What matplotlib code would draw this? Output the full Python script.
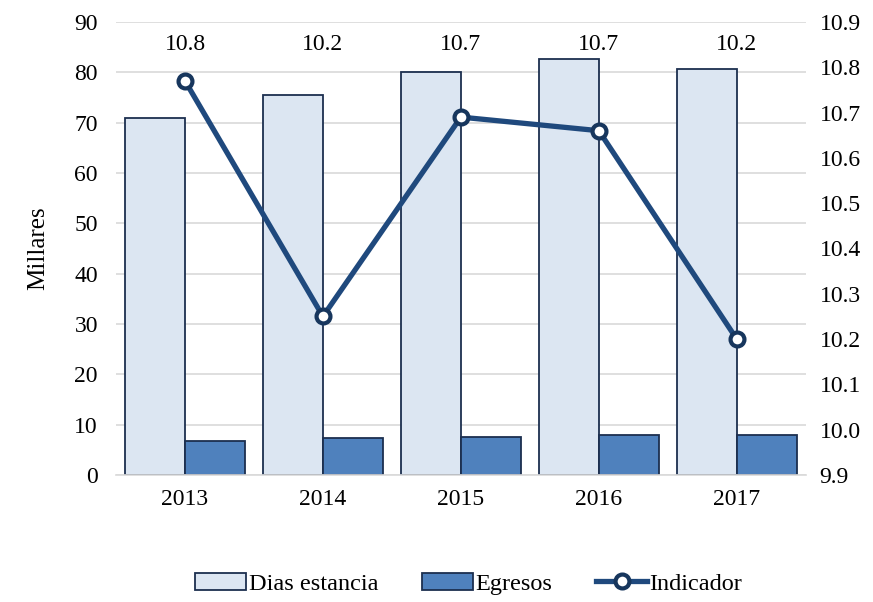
import matplotlib.pyplot as plt
import numpy as np

# data
years = ['2013', '2014', '2015', '2016', '2017']
dias_estancia = [70.9, 75.4, 80.0, 82.7, 80.6]
egresos = [6.7, 7.4, 7.6, 7.9, 8.0]
indicador = [10.77, 10.25, 10.69, 10.66, 10.20]
indicador_labels = ['10.8', '10.2', '10.7', '10.7', '10.2']

plt.rcParams['font.family'] = ['Liberation Serif', 'DejaVu Serif']

fig = plt.figure(figsize=(8.73, 6.02), dpi=100)
ax = fig.add_axes([0.1329, 0.211, 0.790, 0.7525])
ax2 = ax.twinx()

x = np.arange(len(years))
w = 0.435
edge = '#1c2f4f'
ax.bar(x - w/2, dias_estancia, w, color='#dce6f2', edgecolor=edge, linewidth=1.3,
       label='Dias estancia', zorder=2)
ax.bar(x + w/2, egresos, w, color='#4f81bd', edgecolor=edge, linewidth=1.3,
       label='Egresos', zorder=2)

ax.set_ylim(0, 90)
ax.set_yticks(range(0, 91, 10))
ax.set_xlim(-0.5, len(years) - 0.5)
ax.set_xticks(x)
ax.set_xticklabels(years)
ax.yaxis.grid(True, color='#d9d9d9', linewidth=1.2, zorder=0)
ax.set_axisbelow(True)
for s in ['top', 'left', 'right']:
    ax.spines[s].set_visible(False)
ax.spines['bottom'].set_color('#d9d9d9')
ax.spines['bottom'].set_linewidth(1.2)
ax.tick_params(axis='y', length=0, labelsize=17, pad=13)
ax.tick_params(axis='x', length=0, labelsize=17, pad=10)
ax.set_ylabel('Millares', fontsize=18, labelpad=18)

ax2.plot(x, indicador, color='#1f497d', linewidth=3.8, marker='o', markersize=10,
         markerfacecolor='white', markeredgecolor='#17365d', markeredgewidth=3,
         label='Indicador', zorder=3)
ax2.set_ylim(9.9, 10.9)
ax2.set_yticks(np.arange(9.9, 10.95, 0.1))
ax2.set_yticklabels(['%.1f' % v for v in np.arange(9.9, 10.95, 0.1)])
for s in ['top', 'left', 'right', 'bottom']:
    ax2.spines[s].set_visible(False)
ax2.tick_params(axis='y', length=0, labelsize=17, pad=10)

for i, lab in enumerate(indicador_labels):
    ax.text(x[i], 85.6, lab, ha='center', va='center', fontsize=17)

h1, l1 = ax.get_legend_handles_labels()
h2, l2 = ax2.get_legend_handles_labels()
fig.legend(h1 + h2, l1 + l2, loc='center', bbox_to_anchor=(0.537, 0.03),
           ncol=3, frameon=False, fontsize=17.5, handlelength=2.1, columnspacing=1.8,
           handletextpad=0.1, borderaxespad=0)

fig.savefig('out.png', dpi=100)
